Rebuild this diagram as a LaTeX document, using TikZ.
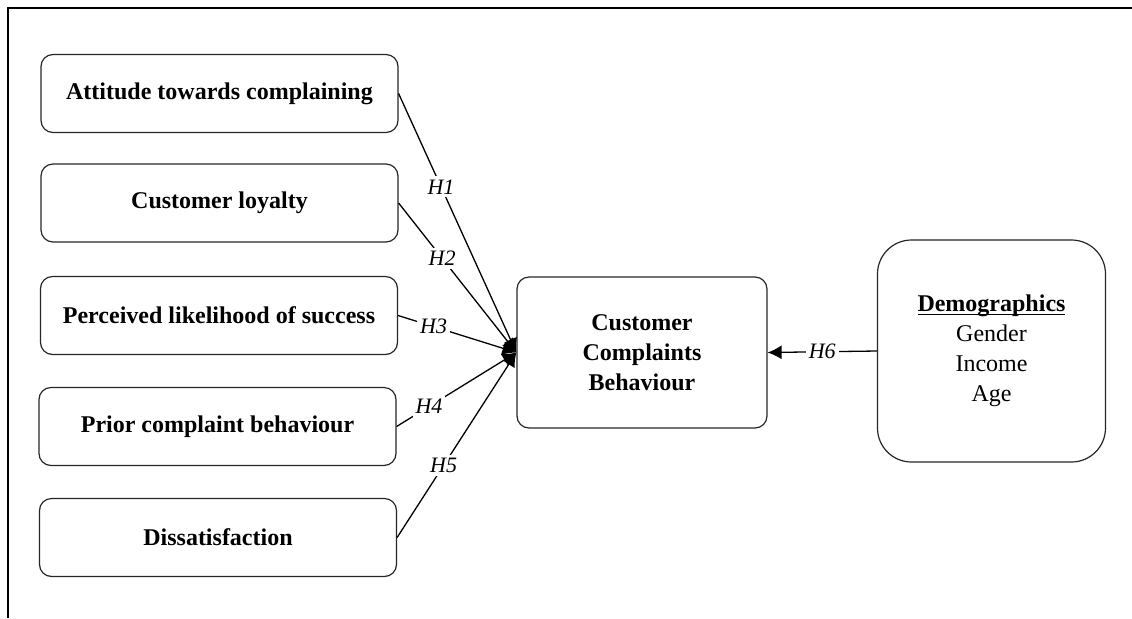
\documentclass[tikz,border=0pt]{standalone}
\usepackage{fontspec}
\setmainfont{Liberation Serif}
\usetikzlibrary{arrows.meta}
\newcommand{\wordul}[1]{\setbox0\hbox{#1}\rlap{\rule[-1.8pt]{\wd0}{0.6pt}}\box0}

\begin{document}
\begin{tikzpicture}[x=0.5pt,y=-0.5pt,
		factor/.style={draw=black!85,line width=0.6pt,rounded corners=6pt,minimum width=178.5pt,minimum height=39pt,align=center,font=\fontsize{12}{15}\selectfont\bfseries},
		hyp/.style={fill=white,inner sep=1.5pt,font=\fontsize{11}{13}\selectfont\itshape},
		link/.style={line width=0.65pt,-{Latex[length=7pt,width=7pt]}}]
	\useasboundingbox (0,0) rectangle (1132,618);
	\draw[line width=1.2pt] (1132,8) -- (8,8) -- (8,618);
	% left side factors
	\node[factor] (att) at (219.5,93.5) {Attitude towards complaining};
	\node[factor] (loy) at (219.5,203) {Customer loyalty};
	\node[factor] (succ) at (219,315.5) {Perceived likelihood of success};
	\node[factor] (prior) at (217.5,426.5) {Prior complaint behaviour};
	\node[factor] (diss) at (218,537.5) {Dissatisfaction};
	% outcome and demographics
	\node[factor,minimum width=125pt,minimum height=75.5pt] (ccb) at (642,352.5) {Customer\\Complaints\\Behaviour};
	\node[factor,rounded corners=17pt,minimum width=114pt,minimum height=111pt,font=\fontsize{12}{15}\selectfont] (demo) at (991.5,351)
		{\wordul{\textbf{Demographics}}\\Gender\\Income\\Age};
	\draw[link] (att.east) -- node[hyp,pos=0.36] {H1} (ccb.west);
	\draw[link] (loy.east) -- node[hyp,pos=0.37] {H2} (ccb.west);
	\draw[link] (succ.east) -- node[hyp,pos=0.3] {H3} (ccb.west);
	\draw[link] (prior.east) -- node[hyp,pos=0.27] {H4} (ccb.west);
	\draw[link] (diss.east) -- node[hyp,pos=0.39] {H5} (ccb.west);
	\draw[link] (demo.west) -- node[hyp] {H6} (ccb.east);
\end{tikzpicture}
\end{document}
